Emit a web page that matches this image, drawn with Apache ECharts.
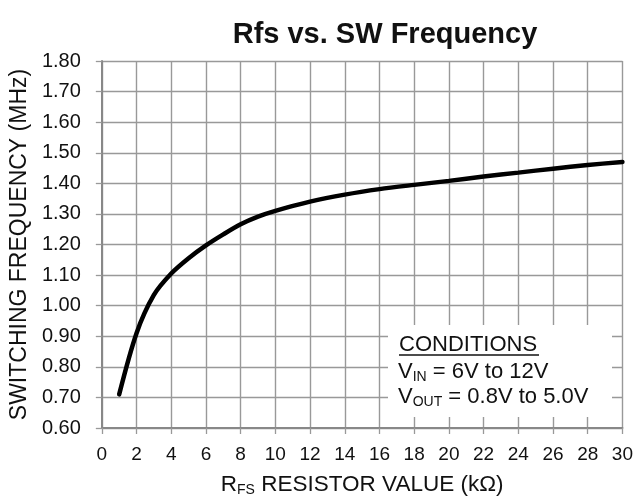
<!DOCTYPE html>
<html>
<head>
<meta charset="utf-8">
<script src="https://cdn.jsdelivr.net/npm/echarts@6/dist/echarts.min.js"></script>
<style>
html,body{margin:0;padding:0;background:#fff;}
#c{width:636px;height:502px;}
</style>
</head>
<body>
<div id="c"></div>
<script>
var rfsValues = [1, 2, 3, 4, 5, 6, 7, 8, 9, 10, 12, 14, 16, 18, 20, 22, 24, 26, 28, 30];
var freqValues = [0.71, 0.91, 1.035, 1.105, 1.155, 1.197, 1.233, 1.266, 1.291, 1.31, 1.34, 1.363, 1.381, 1.395, 1.408, 1.422, 1.435, 1.448, 1.46, 1.47];
var xTicks = {min: 0, max: 30, step: 2};
var yTicks = {min: 0.6, max: 1.8, step: 0.1};
var titleText = 'Rfs vs. SW Frequency';
var yName = 'SWITCHING FREQUENCY (MHz)';
var conditionLines = ['CONDITIONS', 'V{sub|IN} = 6V to 12V', 'V{sub|OUT} = 0.8V to 5.0V'];

var FONT = '"Liberation Sans", Arial, Helvetica, sans-serif';
var chart = echarts.init(document.getElementById('c'), null, {renderer: 'canvas'});
var data = rfsValues.map(function (x, i) { return [x, freqValues[i]]; });

var option = {
  backgroundColor: '#fff',
  animation: false,
  title: {
    text: titleText,
    left: 380, top: 15, textAlign: 'center',
    textStyle: {fontFamily: FONT, fontSize: 29, fontWeight: 'bold', color: '#111'}
  },
  grid: {left: 101, right: 13, top: 61, bottom: 68},
  xAxis: {
    type: 'value', min: xTicks.min, max: xTicks.max, interval: xTicks.step,
    name: 'R{sub|FS} RESISTOR VALUE (kΩ)',
    nameLocation: 'middle', nameGap: 44,
    nameTextStyle: {
      fontFamily: FONT, fontSize: 22.5, color: '#111',
      rich: {sub: {fontFamily: FONT, fontSize: 14, color: '#111', verticalAlign: 'bottom', padding: [11, 0, 0, 0]}}
    },
    axisLine: {show: true, lineStyle: {color: '#888', width: 2}},
    axisTick: {show: true, inside: false, length: 6, lineStyle: {color: '#999', width: 1.3}},
    axisLabel: {margin: 17, fontFamily: FONT, fontSize: 19, color: '#111'},
    splitLine: {show: true, lineStyle: {color: '#999', width: 1.4}}
  },
  yAxis: {
    type: 'value', min: yTicks.min, max: yTicks.max, interval: yTicks.step,
    name: yName, nameLocation: 'middle', nameGap: 67, nameRotate: 90,
    nameTextStyle: {fontFamily: FONT, fontSize: 23, color: '#111'},
    axisLine: {show: true, lineStyle: {color: '#888', width: 2}},
    axisTick: {show: true, inside: false, length: 6, lineStyle: {color: '#999', width: 1.3}},
    axisLabel: {margin: 21, fontFamily: FONT, fontSize: 20, color: '#111',
      formatter: function (v) { return v.toFixed(2); }},
    splitLine: {show: true, lineStyle: {color: '#999', width: 1.4}}
  },
  series: [{
    type: 'line', data: data, smooth: 0.3, showSymbol: false, symbol: 'none',
    lineStyle: {color: '#000', width: 4.5, cap: 'round'}, z: 5
  }],
  graphic: [
    {type: 'rect', shape: {x: 388, y: 325, width: 224, height: 92}, style: {fill: '#fff'}, z: 10},
    {type: 'text', left: 399, top: 334, z: 11,
      style: {text: conditionLines[0], font: '22px ' + FONT, fill: '#111'}},
    {type: 'line', shape: {x1: 399, y1: 355, x2: 539, y2: 355}, style: {stroke: '#111', lineWidth: 1.5}, z: 11},
    {type: 'text', left: 398, top: 361, z: 11,
      style: {text: conditionLines[1], font: '22px ' + FONT, fill: '#111',
        rich: {sub: {font: '14px ' + FONT, fill: '#111', verticalAlign: 'bottom', padding: [10, 0, 0, 0]}}}},
    {type: 'text', left: 398, top: 386, z: 11,
      style: {text: conditionLines[2], font: '22px ' + FONT, fill: '#111',
        rich: {sub: {font: '14px ' + FONT, fill: '#111', verticalAlign: 'bottom', padding: [10, 0, 0, 0]}}}}
  ]
};
chart.setOption(option);
</script>
</body>
</html>
